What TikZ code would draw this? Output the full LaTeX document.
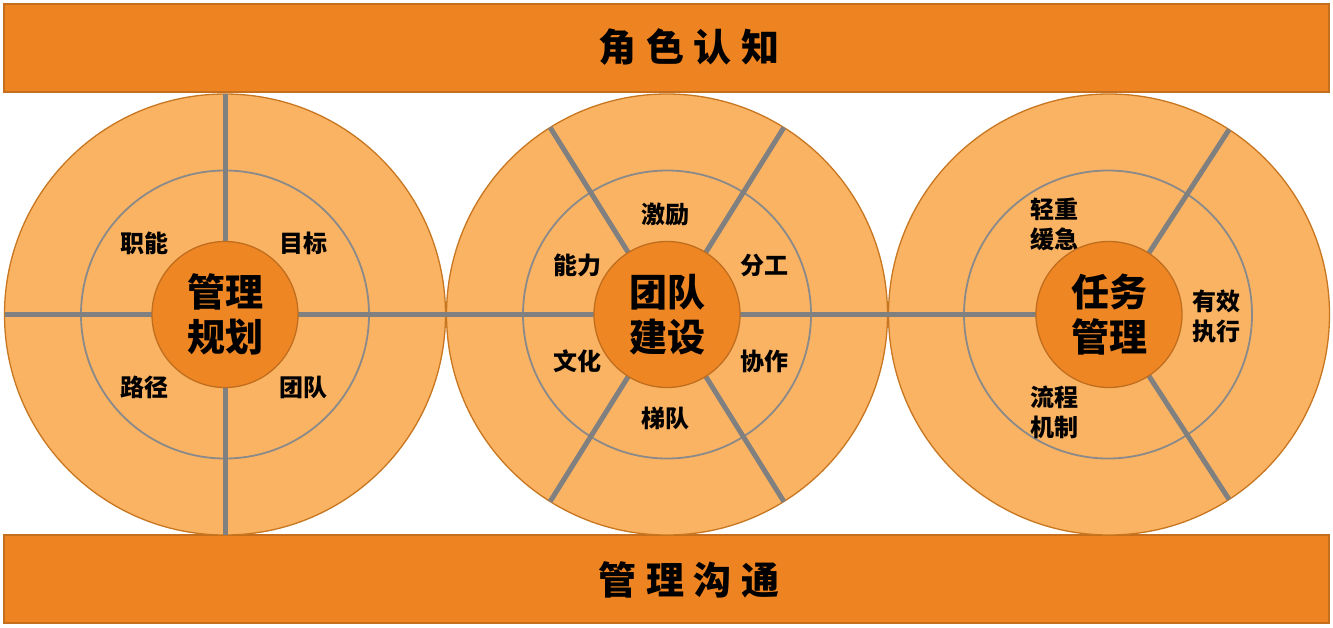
\documentclass[tikz,border=0pt]{standalone}
\usepackage{fontspec}
\setmainfont{Noto Sans CJK SC}
\pgfdeclarelayer{back}
\pgfdeclarelayer{mid}
\pgfsetlayers{back,mid,main}
\definecolor{barfill}{HTML}{EE8421}
\definecolor{barline}{HTML}{C46E1E}
\definecolor{outfill}{HTML}{FAB363}
\definecolor{outline}{HTML}{C8761F}
\definecolor{corefill}{HTML}{EE8624}
\definecolor{coreline}{HTML}{C06E1E}
\definecolor{divgray}{HTML}{808080}
\definecolor{ringgray}{HTML}{8A8A8A}
\tikzset{
  bar/.style={rectangle, fill=barfill, draw=barline, line width=1.5pt, minimum width=1325pt, minimum height=88pt, inner sep=0pt, outer sep=0pt},
  bartext/.style={font=\fontsize{38}{40}\selectfont\bfseries, inner sep=0pt},
  outer/.style={circle, fill=outfill, draw=outline, line width=1.3pt, minimum size=441pt, inner sep=0pt, outer sep=0pt},
  ring/.style={circle, draw=ringgray, line width=1.8pt, minimum size=288pt, inner sep=0pt, outer sep=0pt},
  core/.style={circle, fill=corefill, draw=coreline, line width=1.3pt, minimum size=146pt, inner sep=0pt, outer sep=0pt, align=center, font=\fontsize{38}{45}\selectfont\bfseries},
  divider/.style={draw=divgray, line width=5pt},
  lab/.style={align=center, inner sep=0pt, font=\fontsize{24}{30}\selectfont\bfseries}
}
\begin{document}
\begin{tikzpicture}[x=1pt,y=-1pt]
\useasboundingbox (0,0) rectangle (1333,627);
\begin{pgfonlayer}{back}
  \fill[white] (0,0) rectangle (1333,627);
  \node[bar] (topbar) at (666.5,48) {};
  \node[bar] (botbar) at (666.5,579) {};
  \node[outer] (o1) at (225,314.5) {};
  \node[outer] (o2) at (667,314.5) {};
  \node[outer] (o3) at (1109,314.5) {};
  \node[ring] (r1) at (225,314.5) {};
  \node[ring] (r2) at (667,314.5) {};
  \node[ring] (r3) at (1108,314.5) {};
\end{pgfonlayer}
% centre circles
\node[core] (c1) at (225,314.5) {管理\\规划};
\node[core] (c2) at (667,314.5) {团队\\建设};
\node[core] (c3) at (1109,314.5) {任务\\管理};
% dividers
\begin{pgfonlayer}{mid}
  \draw[divider] (c1.north) -- (o1.north);
  \draw[divider] (c1.south) -- (o1.south);
  \draw[divider] (o1.west) -- (c1.west);
  \draw[divider] (c1.east) -- (c2.west);
  \draw[divider] (c2.east) -- (c3.west);
  \draw[divider] (c2.58) -- (o2.58);
  \draw[divider] (c2.122) -- (o2.122);
  \draw[divider] (c2.238) -- (o2.238);
  \draw[divider] (c2.302) -- (o2.302);
  \draw[divider] (c3.57) -- (o3.57);
  \draw[divider] (c3.-57) -- (o3.-57);
\end{pgfonlayer}
% bar texts
\node[bartext] (toptext) at (689,47.5) {角\hspace{10pt}色\hspace{10pt}认\hspace{10pt}知};
\node[bartext] (bottext) at (689,580) {管\hspace{10pt}理\hspace{10pt}沟\hspace{10pt}通};
% left labels
\node[lab] (l1) at (144,243) {职能};
\node[lab] (l2) at (303,243) {目标};
\node[lab] (l3) at (144,387) {路径};
\node[lab] (l4) at (303,387) {团队};
% middle labels
\node[lab] (m1) at (665,215) {激励};
\node[lab] (m2) at (577,265) {能力};
\node[lab] (m3) at (764,265) {分工};
\node[lab] (m4) at (577,361.5) {文化};
\node[lab] (m5) at (764,361.5) {协作};
\node[lab] (m6) at (665,418) {梯队};
% right labels
\node[lab] (n1) at (1054.5,224.5) {轻重\\缓急};
\node[lab] (n2) at (1216.5,316) {有效\\执行};
\node[lab] (n3) at (1054.5,412.5) {流程\\机制};
\end{tikzpicture}
\end{document}
